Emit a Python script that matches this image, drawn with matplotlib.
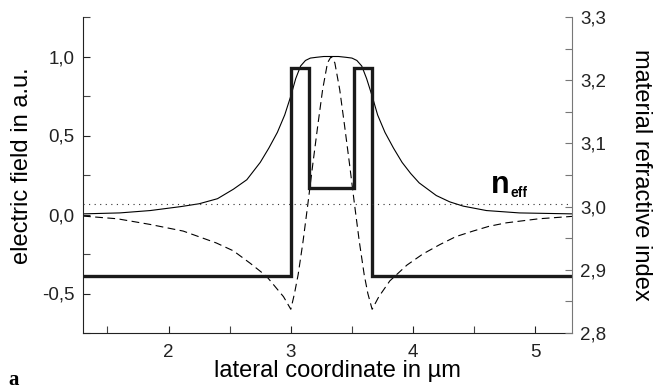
import matplotlib
matplotlib.use('Agg')
import matplotlib.pyplot as plt
from matplotlib.ticker import MultipleLocator, FuncFormatter

plt.rcParams['font.family'] = ['Liberation Sans', 'DejaVu Sans']

# fundamental mode field (solid), left axis
x_solid = [1.3, 1.6, 1.85, 2.1, 2.25, 2.4, 2.53, 2.64, 2.75, 2.82, 2.89, 2.95, 3.0,
           3.04, 3.08, 3.12, 3.16, 3.21, 3.27, 3.33, 3.39, 3.45, 3.5, 3.54, 3.58,
           3.62, 3.665, 3.71, 3.77, 3.84, 3.91, 3.98, 4.05, 4.19, 4.3, 4.41, 4.6,
           4.87, 5.3]
y_solid = [0.004, 0.01, 0.025, 0.05, 0.068, 0.10, 0.16, 0.22, 0.33, 0.42, 0.52, 0.63, 0.75,
           0.86, 0.94, 0.975, 0.99, 0.995, 1.0, 1.0, 1.0, 0.995, 0.99, 0.975, 0.94,
           0.86, 0.75, 0.63, 0.52, 0.42, 0.33, 0.26, 0.20, 0.12, 0.08, 0.053, 0.025,
           0.01, 0.004]

# second field curve (dashed), left axis
x_dash = [1.3, 1.58, 1.85, 2.12, 2.39, 2.53, 2.67, 2.8, 2.94, 3.0, 3.03, 3.06, 3.10,
          3.14, 3.18, 3.22, 3.26, 3.30, 3.33, 3.36, 3.40, 3.44, 3.48, 3.52, 3.56,
          3.60, 3.63, 3.665, 3.72, 3.81, 3.95, 4.08, 4.22, 4.35, 4.49, 4.62, 4.76,
          5.03, 5.3]
y_dash = [-0.01, -0.027, -0.063, -0.105, -0.18, -0.23, -0.31, -0.39, -0.52, -0.60, -0.50,
          -0.38, -0.17, 0.07, 0.32, 0.56, 0.79, 0.96, 1.0, 0.96, 0.79, 0.56, 0.32,
          0.07, -0.17, -0.38, -0.50, -0.60, -0.52, -0.42, -0.32, -0.25, -0.19,
          -0.14, -0.105, -0.075, -0.053, -0.027, -0.012]

# material refractive index profile, right axis
n_edges = [1.3, 3.0, 3.145, 3.52, 3.665, 5.3]
n_values = [2.89, 3.22, 3.03, 3.22, 2.89]
n_eff = 3.004

fig = plt.figure(figsize=(6.55, 3.91), dpi=100)
ax = fig.add_axes([83 / 655, 1 - 333 / 391, (572 - 83) / 655, (333 - 17) / 391])
ax2 = ax.twinx()

ax.plot(x_solid, y_solid, color='black', lw=0.8)
ax.plot(x_dash, y_dash, color='black', lw=0.8, dashes=(7, 4))

ax2.stairs(n_values, n_edges, baseline=None, color='#1a1a1a', lw=2.4,
           joinstyle='miter')
ax2.axhline(n_eff, color='#333333', lw=0.8, ls=(0, (1, 4)))

ax.set_xlim(1.3, 5.3)
ax.set_ylim(-0.75, 1.25)
ax2.set_ylim(2.8, 3.3)

comma = FuncFormatter(lambda v, p: f'{v:.1f}'.replace('.', ','))
ax.xaxis.set_major_locator(MultipleLocator(1))
ax.xaxis.set_minor_locator(MultipleLocator(0.5))
ax.yaxis.set_major_locator(MultipleLocator(0.5))
ax.yaxis.set_minor_locator(MultipleLocator(0.25))
ax.yaxis.set_major_formatter(comma)
ax2.yaxis.set_major_locator(MultipleLocator(0.1))
ax2.yaxis.set_minor_locator(MultipleLocator(0.05))
ax2.yaxis.set_major_formatter(comma)

for a in (ax, ax2):
    a.spines['top'].set_visible(False)
ax.spines['right'].set_visible(False)
ax2.spines['left'].set_visible(False)
ax2.spines['bottom'].set_visible(False)
ax.spines['left'].set_color('#222222')
ax.spines['bottom'].set_color('#222222')
ax2.spines['right'].set_color('#777777')

ax.tick_params(axis='both', which='major', direction='in', length=5, width=0.8,
               labelsize=13.5, colors='#222222', pad=6)
ax.tick_params(axis='both', which='minor', direction='in', length=5, width=0.8,
               colors='#444444')
ax.tick_params(axis='x', which='major', pad=8)
ax2.tick_params(axis='y', which='major', direction='in', length=5, width=0.8,
                labelsize=13.5, colors='#777777', labelcolor='#222222', pad=6)
ax2.tick_params(axis='y', which='minor', direction='in', length=5, width=0.8,
                colors='#777777')

ax.set_xlabel('lateral coordinate in µm', fontsize=17)
ax.xaxis.set_label_coords(0.521, -0.085)
ax.set_ylabel('electric field in a.u.', fontsize=17)
ax.yaxis.set_label_coords(-0.102, 0.528)
ax2.set_ylabel('material refractive index', fontsize=17, rotation=270,
               labelpad=33)

ax2.text(4.635, 3.0217, 'n', fontsize=22, fontweight='bold', ha='left', va='baseline')
ax2.text(4.795, 3.0148, 'eff', fontsize=10, fontweight='bold', ha='left', va='baseline')

fig.text(8 / 655, 1 - 385 / 391, 'a', fontsize=15, fontweight='bold',
         family='Liberation Serif', ha='left', va='baseline')

fig.savefig('out.png', dpi=100, facecolor='white')
